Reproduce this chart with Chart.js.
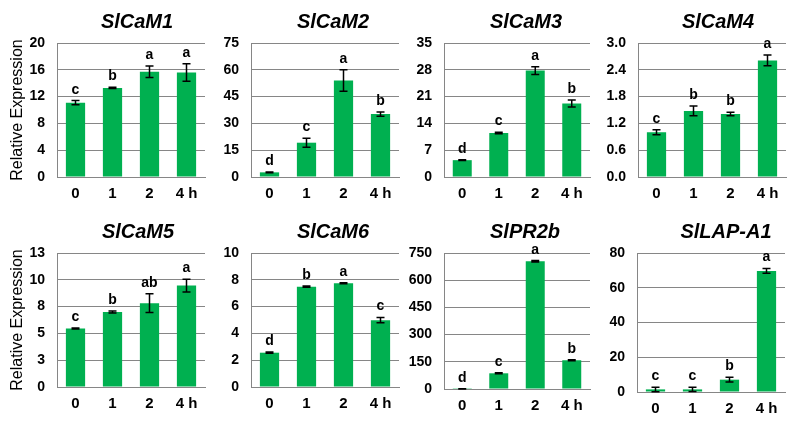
<!DOCTYPE html>
<html><head><meta charset="utf-8">
<script src="https://cdn.jsdelivr.net/npm/chart.js@4.4.1/dist/chart.umd.min.js"></script>
<style>
html,body{margin:0;padding:0;background:#fff;}
#wrap{position:relative;width:794px;height:421px;overflow:hidden;background:#fff;}
#wrap canvas{position:absolute;}
</style></head><body><div id="wrap"></div>
<script>
// ---------- data ----------
const categories = ['0', '1', '2', '4 h'];
const geneNames = ['SlCaM1', 'SlCaM2', 'SlCaM3', 'SlCaM4', 'SlCaM5', 'SlCaM6', 'SlPR2b', 'SlLAP-A1'];
const yAxisTitle = 'Relative Expression';

const slCaM1Values = [11.1, 13.3, 15.7, 15.6];
const slCaM1Errors = [0.3, 0.1, 0.85, 1.3];
const slCaM1Letters = ['c', 'b', 'a', 'a'];

const slCaM2Values = [2.6, 19.2, 54.0, 35.2];
const slCaM2Errors = [0.2, 2.5, 6.0, 1.2];
const slCaM2Letters = ['d', 'c', 'a', 'b'];

const slCaM3Values = [4.4, 11.5, 27.8, 19.2];
const slCaM3Errors = [0.1, 0.2, 1.0, 0.9];
const slCaM3Letters = ['d', 'c', 'a', 'b'];

const slCaM4Values = [1.0, 1.48, 1.41, 2.61];
const slCaM4Errors = [0.056, 0.11, 0.037, 0.12];
const slCaM4Letters = ['c', 'b', 'b', 'a'];

const slCaM5Values = [5.46, 7.0, 7.82, 9.46];
const slCaM5Errors = [0.05, 0.1, 0.88, 0.6];
const slCaM5Letters = ['c', 'b', 'ab', 'a'];

const slCaM6Values = [2.56, 7.49, 7.74, 4.99];
const slCaM6Errors = [0.05, 0.05, 0.04, 0.2];
const slCaM6Letters = ['d', 'b', 'a', 'c'];

const slPR2bValues = [1, 86.6, 704, 158.5];
const slPR2bErrors = [0.5, 3, 4, 3];
const slPR2bLetters = ['d', 'c', 'a', 'b'];

const slLAPA1Values = [1.5, 1.5, 7.1, 69.7];
const slLAPA1Errors = [1.3, 1.2, 1.4, 1.4];
const slLAPA1Letters = ['c', 'c', 'b', 'a'];

// tick values and labels
const ticks1 = [0, 4, 8, 12, 16, 20];
const tickLabels1 = ['0', '4', '8', '12', '16', '20'];
const ticks2 = [0, 15, 30, 45, 60, 75];
const tickLabels2 = ['0', '15', '30', '45', '60', '75'];
const ticks3 = [0, 7, 14, 21, 28, 35];
const tickLabels3 = ['0', '7', '14', '21', '28', '35'];
const ticks4 = [0, 0.6, 1.2, 1.8, 2.4, 3.0];
const tickLabels4 = ['0.0', '0.6', '1.2', '1.8', '2.4', '3.0'];
const ticks5 = [0, 2.5, 5, 7.5, 10, 12.5];
const tickLabels5 = ['0', '3', '5', '8', '10', '13'];
const ticks6 = [0, 2, 4, 6, 8, 10];
const tickLabels6 = ['0', '2', '4', '6', '8', '10'];
const ticks7 = [0, 150, 300, 450, 600, 750];
const tickLabels7 = ['0', '150', '300', '450', '600', '750'];
const ticks8 = [0, 20, 40, 60, 80];
const tickLabels8 = ['0', '20', '40', '60', '80'];

const panels = [
  { name: geneNames[0], values: slCaM1Values, errors: slCaM1Errors, letters: slCaM1Letters, ticks: ticks1, tickLabels: tickLabels1 },
  { name: geneNames[1], values: slCaM2Values, errors: slCaM2Errors, letters: slCaM2Letters, ticks: ticks2, tickLabels: tickLabels2 },
  { name: geneNames[2], values: slCaM3Values, errors: slCaM3Errors, letters: slCaM3Letters, ticks: ticks3, tickLabels: tickLabels3 },
  { name: geneNames[3], values: slCaM4Values, errors: slCaM4Errors, letters: slCaM4Letters, ticks: ticks4, tickLabels: tickLabels4 },
  { name: geneNames[4], values: slCaM5Values, errors: slCaM5Errors, letters: slCaM5Letters, ticks: ticks5, tickLabels: tickLabels5 },
  { name: geneNames[5], values: slCaM6Values, errors: slCaM6Errors, letters: slCaM6Letters, ticks: ticks6, tickLabels: tickLabels6 },
  { name: geneNames[6], values: slPR2bValues, errors: slPR2bErrors, letters: slPR2bLetters, ticks: ticks7, tickLabels: tickLabels7 },
  { name: geneNames[7], values: slLAPA1Values, errors: slLAPA1Errors, letters: slLAPA1Letters, ticks: ticks8, tickLabels: tickLabels8 }
];

// ---------- layout / style (pixel boxes of each panel) ----------
const boxes = [
  { cl: 0,   ct: 0,   w: 215, h: 210, left: 57,  right: 205, top: 43,  bottom: 177, tx: 137, yTitle: true },
  { cl: 200, ct: 0,   w: 205, h: 210, left: 251, right: 399, top: 43,  bottom: 177, tx: 333 },
  { cl: 400, ct: 0,   w: 200, h: 210, left: 444, right: 590, top: 43,  bottom: 177, tx: 526 },
  { cl: 600, ct: 0,   w: 194, h: 210, left: 638, right: 786, top: 43,  bottom: 177, tx: 718 },
  { cl: 0,   ct: 210, w: 215, h: 211, left: 57,  right: 205, top: 253, bottom: 387, tx: 138, yTitle: true },
  { cl: 200, ct: 210, w: 205, h: 211, left: 251, right: 399, top: 253, bottom: 387, tx: 333 },
  { cl: 400, ct: 210, w: 200, h: 211, left: 444, right: 590, top: 253, bottom: 389, tx: 525 },
  { cl: 600, ct: 210, w: 194, h: 211, left: 637, right: 785, top: 253, bottom: 392, tx: 726 }
];
const FONT = "'Liberation Sans', Arial, Helvetica, sans-serif";
const GREEN = '#00b050';
const GRID = '#868686';
const XAXIS_H = 28;

Chart.defaults.font.family = FONT;
Chart.defaults.color = '#000';

const annotatePlugin = {
  id: 'annotate',
  afterDatasetsDraw(chart, args, opts) {
    const ctx = chart.ctx;
    const y = chart.scales.y;
    const meta = chart.getDatasetMeta(0);
    const vals = chart.data.datasets[0].data;
    ctx.save();
    ctx.strokeStyle = '#000';
    ctx.lineWidth = 1.5;
    ctx.fillStyle = '#000';
    ctx.font = 'bold 14px ' + FONT;
    ctx.textAlign = 'center';
    ctx.textBaseline = 'alphabetic';
    meta.data.forEach((bar, i) => {
      const v = vals[i], e = opts.errors[i];
      const x = bar.x;
      const yt = y.getPixelForValue(v + e);
      const yb = y.getPixelForValue(Math.max(v - e, 0));
      ctx.beginPath();
      ctx.moveTo(x, yt); ctx.lineTo(x, yb);
      ctx.moveTo(x - 4, yt); ctx.lineTo(x + 4, yt);
      ctx.moveTo(x - 4, yb); ctx.lineTo(x + 4, yb);
      ctx.stroke();
      ctx.fillText(opts.letters[i], x, yt - 7);
    });
    // panel title
    ctx.font = 'italic bold 20px ' + FONT;
    ctx.fillText(opts.title, opts.titleX, opts.titleY);
    ctx.restore();
  }
};

const wrap = document.getElementById('wrap');
panels.forEach((p, k) => {
  const b = boxes[k];
  const cv = document.createElement('canvas');
  cv.width = b.w; cv.height = b.h;
  cv.style.left = b.cl + 'px'; cv.style.top = b.ct + 'px';
  cv.style.width = b.w + 'px'; cv.style.height = b.h + 'px';
  wrap.appendChild(cv);
  const yw = b.left - b.cl;
  new Chart(cv, {
    type: 'bar',
    data: {
      labels: categories,
      datasets: [{ data: p.values, backgroundColor: GREEN, borderWidth: 0,
                   barPercentage: 0.52, categoryPercentage: 1.0 }]
    },
    options: {
      responsive: false,
      maintainAspectRatio: false,
      animation: false,
      devicePixelRatio: 1,
      layout: { padding: { left: 0, right: b.cl + b.w - b.right, top: b.top - b.ct,
                           bottom: (b.ct + b.h) - b.bottom - XAXIS_H } },
      plugins: {
        legend: { display: false },
        tooltip: { enabled: false },
        title: { display: false },
        annotate: { errors: p.errors, letters: p.letters, title: p.name,
                    titleX: b.tx - b.cl, titleY: 28 }
      },
      scales: {
        x: {
          grid: { display: false, drawTicks: false },
          border: { display: true, color: GRID, width: 1 },
          ticks: { font: { size: 15, weight: 'bold' }, padding: 8, color: '#000', maxRotation: 0 },
          afterFit: (ax) => { ax.height = XAXIS_H; }
        },
        y: {
          min: 0,
          max: p.ticks[p.ticks.length - 1],
          afterBuildTicks: (ax) => { ax.ticks = p.ticks.map(v => ({ value: v })); },
          grid: { color: GRID, lineWidth: 1, drawTicks: false },
          border: { display: true, color: GRID, width: 1 },
          ticks: { font: { size: 14, weight: 'bold' }, padding: 12, color: '#000',
                    callback: (val, idx) => p.tickLabels[idx] },
          title: { display: !!b.yTitle, text: yAxisTitle, font: { size: 16, weight: 'normal' },
                   color: '#000', padding: { top: 8, bottom: 0 } },
          afterFit: (ax) => { ax.width = yw; }
        }
      }
    },
    plugins: [annotatePlugin]
  });
});
</script>
</body></html>
